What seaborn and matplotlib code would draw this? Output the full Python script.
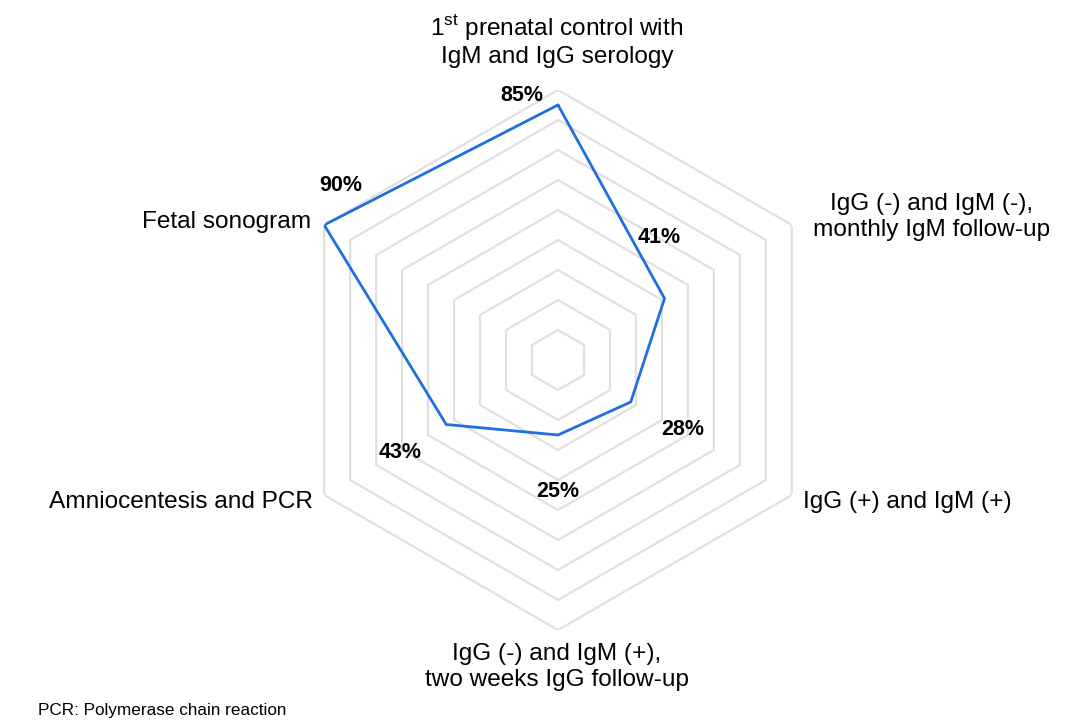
import numpy as np
import seaborn as sns
import matplotlib.pyplot as plt

# Data
categories = [
    "1$^{\\mathrm{st}}$ prenatal control with\nIgM and IgG serology",
    "IgG (-) and IgM (-),\nmonthly IgM follow-up",
    "IgG (+) and IgM (+)",
    "IgG (-) and IgM (+),\ntwo weeks IgG follow-up",
    "Amniocentesis and PCR",
    "Fetal sonogram",
]
values = [85, 41, 28, 25, 43, 90]
value_labels = ["85%", "41%", "28%", "25%", "43%", "90%"]
ring_levels = [10, 20, 30, 40, 50, 60, 70, 80, 90]

sns.set_style("white")
plt.rcParams["font.family"] = ["Liberation Sans", "DejaVu Sans"]
plt.rcParams["mathtext.fontset"] = "custom"
plt.rcParams["mathtext.rm"] = "Liberation Sans"
plt.rcParams["text.color"] = "black"

W, H = 1086, 728
fig = plt.figure(figsize=(W / 100, H / 100), dpi=100)
cx, cy, R = 558, 360, 270
ax = fig.add_axes([(cx - R) / W, 1 - (cy + R) / H, 2 * R / W, 2 * R / H], projection="polar")
ax.set_theta_zero_location("N")
ax.set_theta_direction(-1)
ax.set_ylim(0, 90)
ax.grid(False)
ax.set_xticks([])
ax.set_yticks([])
ax.spines["polar"].set_visible(False)
ax.patch.set_alpha(0)

n = len(values)
# closed polygon: last angle is 2*pi so seaborn does not merge it with 0
theta_c = np.linspace(0, 2 * np.pi, n + 1)

# hexagonal rings
for lvl in ring_levels:
    ax.plot(theta_c, [lvl] * (n + 1), color="#e0e0e0", lw=1.6, zorder=1)

# data line
sns.lineplot(x=theta_c, y=values + values[:1], sort=False, ax=ax,
             color="#1f6fe0", lw=2.0, zorder=3)

# value labels (polar position: angle deg, radius)
label_pos = [(-7.7, 89), (39.6, 52.8), (119.2, 47.8), (180, 43.7), (239.8, 61), (-51.2, 93)]
for (ang, r), txt in zip(label_pos, value_labels):
    ax.text(np.deg2rad(ang), r, txt, ha="center", va="center", color="black",
            fontsize=15.5, fontweight="bold", zorder=4)

# category labels (figure pixel positions)
cat_pos = [(557, 40, "center"), (932, 217, "center"), (803, 502, "left"),
           (557, 667, "center"), (313, 502, "right"), (311, 222, "right")]
for (x, y, ha), txt in zip(cat_pos, categories):
    fig.text(x / W, 1 - y / H, txt, ha=ha, va="center", fontsize=17.6,
             multialignment="center", linespacing=1.2, color="black")

fig.text(38 / W, 1 - 711 / H, "PCR: Polymerase chain reaction", ha="left",
         va="center", fontsize=12.3, color="black")

fig.savefig("out.png", dpi=100)
plt.close(fig)
